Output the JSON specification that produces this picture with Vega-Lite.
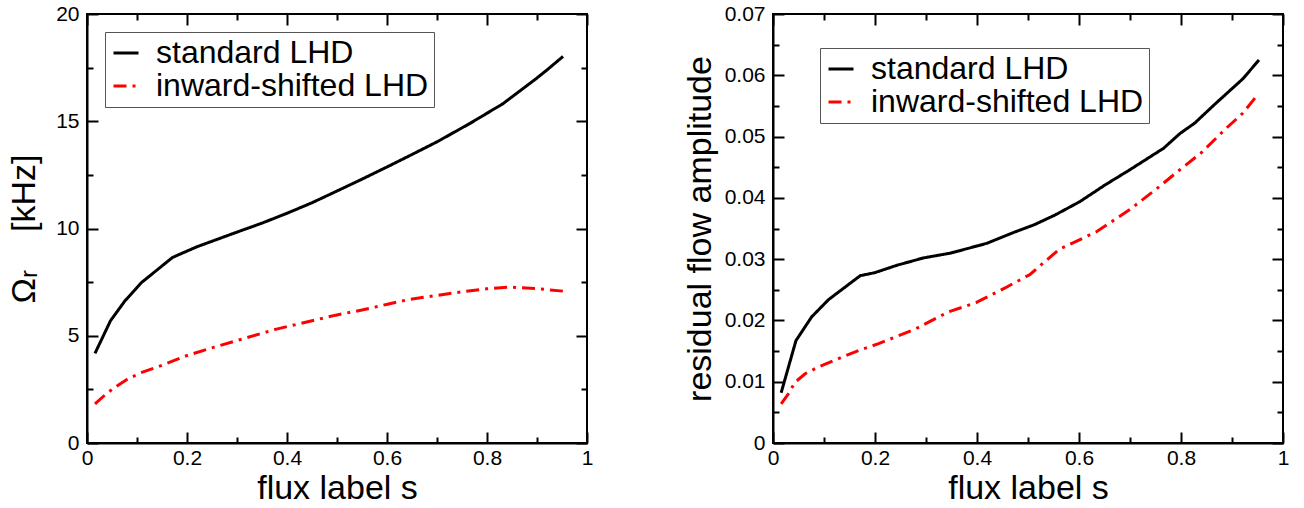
{
  "$schema": "https://vega.github.io/schema/vega-lite/v6.json",
  "padding": {"left": 6, "top": 2, "right": 5, "bottom": 5},
  "datasets": {
    "L": [
      {"s": 0.016, "v": 4.18, "series": "standard LHD"},
      {"s": 0.047, "v": 5.7, "series": "standard LHD"},
      {"s": 0.076, "v": 6.63, "series": "standard LHD"},
      {"s": 0.109, "v": 7.48, "series": "standard LHD"},
      {"s": 0.171, "v": 8.65, "series": "standard LHD"},
      {"s": 0.22, "v": 9.15, "series": "standard LHD"},
      {"s": 0.295, "v": 9.79, "series": "standard LHD"},
      {"s": 0.35, "v": 10.25, "series": "standard LHD"},
      {"s": 0.401, "v": 10.72, "series": "standard LHD"},
      {"s": 0.45, "v": 11.2, "series": "standard LHD"},
      {"s": 0.4975, "v": 11.72, "series": "standard LHD"},
      {"s": 0.55, "v": 12.3, "series": "standard LHD"},
      {"s": 0.601, "v": 12.88, "series": "standard LHD"},
      {"s": 0.65, "v": 13.45, "series": "standard LHD"},
      {"s": 0.7, "v": 14.04, "series": "standard LHD"},
      {"s": 0.766, "v": 14.9, "series": "standard LHD"},
      {"s": 0.799, "v": 15.36, "series": "standard LHD"},
      {"s": 0.832, "v": 15.82, "series": "standard LHD"},
      {"s": 0.865, "v": 16.4, "series": "standard LHD"},
      {"s": 0.898, "v": 16.98, "series": "standard LHD"},
      {"s": 0.923, "v": 17.45, "series": "standard LHD"},
      {"s": 0.952, "v": 18.02, "series": "standard LHD"},
      {"s": 0.016, "v": 1.82, "series": "inward-shifted LHD"},
      {"s": 0.036, "v": 2.24, "series": "inward-shifted LHD"},
      {"s": 0.053, "v": 2.55, "series": "inward-shifted LHD"},
      {"s": 0.079, "v": 2.95, "series": "inward-shifted LHD"},
      {"s": 0.106, "v": 3.26, "series": "inward-shifted LHD"},
      {"s": 0.153, "v": 3.65, "series": "inward-shifted LHD"},
      {"s": 0.199, "v": 4.07, "series": "inward-shifted LHD"},
      {"s": 0.253, "v": 4.46, "series": "inward-shifted LHD"},
      {"s": 0.299, "v": 4.77, "series": "inward-shifted LHD"},
      {"s": 0.379, "v": 5.31, "series": "inward-shifted LHD"},
      {"s": 0.45, "v": 5.7, "series": "inward-shifted LHD"},
      {"s": 0.4975, "v": 5.96, "series": "inward-shifted LHD"},
      {"s": 0.55, "v": 6.2, "series": "inward-shifted LHD"},
      {"s": 0.601, "v": 6.47, "series": "inward-shifted LHD"},
      {"s": 0.646, "v": 6.7, "series": "inward-shifted LHD"},
      {"s": 0.7, "v": 6.88, "series": "inward-shifted LHD"},
      {"s": 0.75, "v": 7.05, "series": "inward-shifted LHD"},
      {"s": 0.799, "v": 7.19, "series": "inward-shifted LHD"},
      {"s": 0.845, "v": 7.27, "series": "inward-shifted LHD"},
      {"s": 0.902, "v": 7.19, "series": "inward-shifted LHD"},
      {"s": 0.952, "v": 7.08, "series": "inward-shifted LHD"}
    ],
    "R": [
      {"s": 0.016, "v": 0.0082, "series": "standard LHD"},
      {"s": 0.045, "v": 0.0167, "series": "standard LHD"},
      {"s": 0.076, "v": 0.0206, "series": "standard LHD"},
      {"s": 0.109, "v": 0.0234, "series": "standard LHD"},
      {"s": 0.171, "v": 0.0273, "series": "standard LHD"},
      {"s": 0.2, "v": 0.0278, "series": "standard LHD"},
      {"s": 0.243, "v": 0.029, "series": "standard LHD"},
      {"s": 0.295, "v": 0.0302, "series": "standard LHD"},
      {"s": 0.349, "v": 0.031, "series": "standard LHD"},
      {"s": 0.42, "v": 0.0326, "series": "standard LHD"},
      {"s": 0.47, "v": 0.0343, "series": "standard LHD"},
      {"s": 0.512, "v": 0.0356, "series": "standard LHD"},
      {"s": 0.553, "v": 0.0372, "series": "standard LHD"},
      {"s": 0.602, "v": 0.0394, "series": "standard LHD"},
      {"s": 0.651, "v": 0.0421, "series": "standard LHD"},
      {"s": 0.7, "v": 0.0446, "series": "standard LHD"},
      {"s": 0.766, "v": 0.0481, "series": "standard LHD"},
      {"s": 0.798, "v": 0.0505, "series": "standard LHD"},
      {"s": 0.827, "v": 0.0522, "series": "standard LHD"},
      {"s": 0.864, "v": 0.0551, "series": "standard LHD"},
      {"s": 0.921, "v": 0.0594, "series": "standard LHD"},
      {"s": 0.953, "v": 0.0625, "series": "standard LHD"},
      {"s": 0.016, "v": 0.0064, "series": "inward-shifted LHD"},
      {"s": 0.03, "v": 0.008, "series": "inward-shifted LHD"},
      {"s": 0.043, "v": 0.0099, "series": "inward-shifted LHD"},
      {"s": 0.063, "v": 0.0113, "series": "inward-shifted LHD"},
      {"s": 0.089, "v": 0.0124, "series": "inward-shifted LHD"},
      {"s": 0.135, "v": 0.014, "series": "inward-shifted LHD"},
      {"s": 0.168, "v": 0.0151, "series": "inward-shifted LHD"},
      {"s": 0.207, "v": 0.0162, "series": "inward-shifted LHD"},
      {"s": 0.279, "v": 0.0186, "series": "inward-shifted LHD"},
      {"s": 0.344, "v": 0.0214, "series": "inward-shifted LHD"},
      {"s": 0.398, "v": 0.0229, "series": "inward-shifted LHD"},
      {"s": 0.455, "v": 0.0253, "series": "inward-shifted LHD"},
      {"s": 0.504, "v": 0.0275, "series": "inward-shifted LHD"},
      {"s": 0.561, "v": 0.0316, "series": "inward-shifted LHD"},
      {"s": 0.635, "v": 0.0345, "series": "inward-shifted LHD"},
      {"s": 0.7, "v": 0.0381, "series": "inward-shifted LHD"},
      {"s": 0.757, "v": 0.0418, "series": "inward-shifted LHD"},
      {"s": 0.798, "v": 0.0446, "series": "inward-shifted LHD"},
      {"s": 0.839, "v": 0.0473, "series": "inward-shifted LHD"},
      {"s": 0.888, "v": 0.0513, "series": "inward-shifted LHD"},
      {"s": 0.921, "v": 0.0538, "series": "inward-shifted LHD"},
      {"s": 0.95, "v": 0.0568, "series": "inward-shifted LHD"}
    ]
  },
  "spacing": 186,
  "bounds": "flush",
  "resolve": {"scale": {"x": "independent", "y": "independent", "color": "independent", "strokeDash": "independent"}, "legend": {"color": "independent", "strokeDash": "independent"}},
  "hconcat": [
    {
      "width": 500,
      "height": 429,
      "data": {"name": "L"},
      "resolve": {"axis": {"x": "independent", "y": "independent"}},
      "layer": [
        {
          "mark": {"type": "line", "strokeWidth": 3},
          "encoding": {
            "x": {"field": "s", "type": "quantitative", "scale": {"domain": [0, 1], "nice": false, "zero": false},
              "axis": {"orient": "bottom", "values": [0, 0.2, 0.4, 0.6, 0.8, 1], "labelExpr": "'' + datum.value", "title": "flux label s", "tickSize": -11, "labelPadding": 15, "titlePadding": 3}},
            "y": {"field": "v", "type": "quantitative", "scale": {"domain": [0, 20], "nice": false, "zero": false},
              "axis": {"orient": "left", "values": [0, 5, 10, 15, 20], "labelExpr": "'' + datum.value", "title": "Ωᵣ\u00a0\u00a0\u00a0\u00a0[kHz]", "tickSize": -11, "labelPadding": 19, "titlePadding": 14}},
            "color": {"field": "series", "type": "nominal", "scale": {"domain": ["standard LHD", "inward-shifted LHD"], "range": ["#000000", "#ff0000"]},
              "legend": {"title": null, "orient": "none", "legendX": 18, "legendY": 18}},
            "strokeDash": {"field": "series", "type": "nominal", "scale": {"domain": ["standard LHD", "inward-shifted LHD"], "range": [[1, 0], [13, 6, 3, 6]]},
              "legend": {"title": null, "orient": "none", "legendX": 18, "legendY": 18}}
          }
        },
        {
          "mark": {"type": "point", "opacity": 0},
          "encoding": {
            "x": {"field": "s", "type": "quantitative", "scale": {"domain": [0, 1], "nice": false, "zero": false},
              "axis": {"orient": "bottom", "values": [0.1, 0.3, 0.5, 0.7, 0.9], "labels": false, "domain": false, "title": null, "tickSize": -6}},
            "y": {"field": "v", "type": "quantitative", "scale": {"domain": [0, 20], "nice": false, "zero": false},
              "axis": {"orient": "left", "values": [2.5, 7.5, 12.5, 17.5], "labels": false, "domain": false, "title": null, "tickSize": -6}}
          }
        },
        {
          "mark": {"type": "point", "opacity": 0},
          "encoding": {
            "x": {"field": "s", "type": "quantitative", "scale": {"domain": [0, 1], "nice": false, "zero": false},
              "axis": {"orient": "top", "values": [0, 0.2, 0.4, 0.6, 0.8, 1], "labels": false, "domain": false, "title": null, "tickSize": -11}},
            "y": {"field": "v", "type": "quantitative", "scale": {"domain": [0, 20], "nice": false, "zero": false},
              "axis": {"orient": "right", "values": [0, 5, 10, 15, 20], "labels": false, "domain": false, "title": null, "tickSize": -11}}
          }
        },
        {
          "mark": {"type": "point", "opacity": 0},
          "encoding": {
            "x": {"field": "s", "type": "quantitative", "scale": {"domain": [0, 1], "nice": false, "zero": false},
              "axis": {"orient": "top", "values": [0.1, 0.3, 0.5, 0.7, 0.9], "labels": false, "domain": false, "title": null, "tickSize": -6}},
            "y": {"field": "v", "type": "quantitative", "scale": {"domain": [0, 20], "nice": false, "zero": false},
              "axis": {"orient": "right", "values": [2.5, 7.5, 12.5, 17.5], "labels": false, "domain": false, "title": null, "tickSize": -6}}
          }
        }
      ]
    },
    {
      "width": 510,
      "height": 429,
      "data": {"name": "R"},
      "resolve": {"axis": {"x": "independent", "y": "independent"}},
      "layer": [
        {
          "mark": {"type": "line", "strokeWidth": 3},
          "encoding": {
            "x": {"field": "s", "type": "quantitative", "scale": {"domain": [0, 1], "nice": false, "zero": false},
              "axis": {"orient": "bottom", "values": [0, 0.2, 0.4, 0.6, 0.8, 1], "labelExpr": "'' + datum.value", "title": "flux label s", "tickSize": -11, "labelPadding": 15, "titlePadding": 3}},
            "y": {"field": "v", "type": "quantitative", "scale": {"domain": [0, 0.07], "nice": false, "zero": false},
              "axis": {"orient": "left", "values": [0, 0.01, 0.02, 0.03, 0.04, 0.05, 0.06, 0.07], "labelExpr": "'' + datum.value", "title": "residual flow amplitude", "tickSize": -11, "labelPadding": 19, "titlePadding": 7}},
            "color": {"field": "series", "type": "nominal", "scale": {"domain": ["standard LHD", "inward-shifted LHD"], "range": ["#000000", "#ff0000"]},
              "legend": {"title": null, "orient": "none", "legendX": 47, "legendY": 34}},
            "strokeDash": {"field": "series", "type": "nominal", "scale": {"domain": ["standard LHD", "inward-shifted LHD"], "range": [[1, 0], [13, 6, 3, 6]]},
              "legend": {"title": null, "orient": "none", "legendX": 47, "legendY": 34}}
          }
        },
        {
          "mark": {"type": "point", "opacity": 0},
          "encoding": {
            "x": {"field": "s", "type": "quantitative", "scale": {"domain": [0, 1], "nice": false, "zero": false},
              "axis": {"orient": "bottom", "values": [0.1, 0.3, 0.5, 0.7, 0.9], "labels": false, "domain": false, "title": null, "tickSize": -6}},
            "y": {"field": "v", "type": "quantitative", "scale": {"domain": [0, 0.07], "nice": false, "zero": false},
              "axis": {"orient": "left", "values": [0.005, 0.015, 0.025, 0.035, 0.045, 0.055, 0.065], "labels": false, "domain": false, "title": null, "tickSize": -6}}
          }
        },
        {
          "mark": {"type": "point", "opacity": 0},
          "encoding": {
            "x": {"field": "s", "type": "quantitative", "scale": {"domain": [0, 1], "nice": false, "zero": false},
              "axis": {"orient": "top", "values": [0, 0.2, 0.4, 0.6, 0.8, 1], "labels": false, "domain": false, "title": null, "tickSize": -11}},
            "y": {"field": "v", "type": "quantitative", "scale": {"domain": [0, 0.07], "nice": false, "zero": false},
              "axis": {"orient": "right", "values": [0, 0.01, 0.02, 0.03, 0.04, 0.05, 0.06, 0.07], "labels": false, "domain": false, "title": null, "tickSize": -11}}
          }
        },
        {
          "mark": {"type": "point", "opacity": 0},
          "encoding": {
            "x": {"field": "s", "type": "quantitative", "scale": {"domain": [0, 1], "nice": false, "zero": false},
              "axis": {"orient": "top", "values": [0.1, 0.3, 0.5, 0.7, 0.9], "labels": false, "domain": false, "title": null, "tickSize": -6}},
            "y": {"field": "v", "type": "quantitative", "scale": {"domain": [0, 0.07], "nice": false, "zero": false},
              "axis": {"orient": "right", "values": [0.005, 0.015, 0.025, 0.035, 0.045, 0.055, 0.065], "labels": false, "domain": false, "title": null, "tickSize": -6}}
          }
        }
      ]
    }
  ],
  "config": {
    "font": "Liberation Sans",
    "view": {"stroke": "#000000", "strokeWidth": 2},
    "axis": {
      "grid": false,
      "domainColor": "#000000",
      "domainWidth": 2,
      "tickColor": "#000000",
      "tickWidth": 2,
      "labelColor": "#000000",
      "labelFont": "Liberation Sans",
      "labelFontSize": 21,
      "labelFlush": false,
      "labelOverlap": false,
      "titleColor": "#000000",
      "titleFont": "Liberation Sans",
      "titleFontSize": 34,
      "titleFontWeight": "normal"
    },
    "legend": {
      "strokeColor": "#555555",
      "strokeWidth": 1,
      "fillColor": "#ffffff",
      "padding": 5,
      "labelFont": "Liberation Sans",
      "labelFontSize": 32,
      "labelColor": "#000000",
      "labelLimit": 500,
      "labelOffset": 14,
      "symbolType": "stroke",
      "symbolSize": 625,
      "symbolStrokeWidth": 3,
      "rowPadding": 1
    }
  }
}
